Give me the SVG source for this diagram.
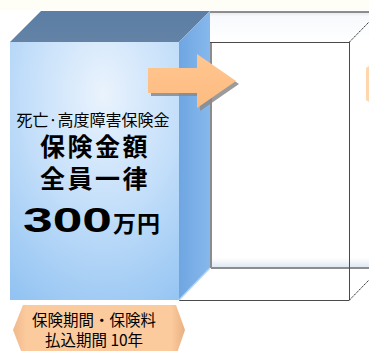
<svg xmlns="http://www.w3.org/2000/svg" width="369" height="351" viewBox="0 0 369 351">
<defs>
<style>
.t{font-family:"Noto Sans CJK JP","Liberation Sans",sans-serif;fill:#000;text-anchor:middle}
.back{stroke:#8c8c8c;stroke-width:2;fill:none}
.front{stroke:#4a4a4a;stroke-width:1;fill:none}
.diag{stroke:#222;stroke-width:1;stroke-dasharray:1.5 0.8;fill:none}
</style>
<radialGradient id="gFront" cx="0.55" cy="0.2" r="0.95">
<stop offset="0" stop-color="#EAF3FD"/>
<stop offset="0.45" stop-color="#C6E0FA"/>
<stop offset="1" stop-color="#92C3F2"/>
</radialGradient>
<linearGradient id="gSide" x1="0" y1="0" x2="1" y2="0">
<stop offset="0" stop-color="#6FA6E2"/>
<stop offset="1" stop-color="#86B8EC"/>
</linearGradient>
<linearGradient id="gTop" x1="0" y1="0" x2="0" y2="1">
<stop offset="0" stop-color="#5C7EA4"/>
<stop offset="1" stop-color="#6382A6"/>
</linearGradient>
<linearGradient id="gArrow" x1="0" y1="0" x2="0" y2="1">
<stop offset="0" stop-color="#FFC690"/>
<stop offset="1" stop-color="#FDBB80"/>
</linearGradient>
<linearGradient id="gLabel" x1="0" y1="0" x2="1" y2="0">
<stop offset="0" stop-color="#F0B98A"/>
<stop offset="0.08" stop-color="#FBCB9E"/>
<stop offset="0.92" stop-color="#FBCB9E"/>
<stop offset="1" stop-color="#E9B080"/>
</linearGradient>
<linearGradient id="gWTop" x1="0" y1="0" x2="0" y2="1">
<stop offset="0" stop-color="#E6E6E6"/>
<stop offset="0.15" stop-color="#F7F9FC"/>
<stop offset="1" stop-color="#FFFFFF"/>
</linearGradient>
<linearGradient id="gWBot" x1="0" y1="1" x2="0" y2="0">
<stop offset="0" stop-color="#DCE6F0"/>
<stop offset="1" stop-color="#FFFFFF"/>
</linearGradient>
</defs>
<rect width="369" height="351" fill="#FFFFFF"/>
<rect width="369" height="10" fill="#FFFEF6"/>

<g id="white-box">
<rect x="210" y="12" width="159" height="30" fill="url(#gWTop)"/>
<rect x="210" y="258" width="159" height="10" fill="url(#gWBot)"/>
<line class="back" x1="210" y1="12" x2="369" y2="12"/>
<line class="back" x1="211" y1="42" x2="211" y2="268"/>
<line class="back" x1="211" y1="268" x2="369" y2="268"/>
<line class="front" x1="210" y1="42.5" x2="349.5" y2="42.5"/>
<line class="front" x1="349.5" y1="42" x2="349.5" y2="300"/>
<line class="front" x1="179" y1="300.5" x2="349.5" y2="300.5"/>
<line class="diag" x1="349.5" y1="42" x2="369" y2="22"/>
<line class="diag" x1="349.5" y1="300" x2="369" y2="280"/>
<path d="M366,68 L369,66 L369,102 L366,100 Z" fill="#FFD7AE"/>
</g>

<g id="blue-box">
<polygon points="10,42 41,11 210,11 179,42" fill="url(#gTop)"/>
<polygon points="179,42 210,11 210,268 179,300" fill="url(#gSide)"/>
<line x1="179" y1="300" x2="210" y2="268" stroke="#B8D6F5" stroke-width="1.5"/>
<rect x="10" y="42" width="169" height="258" fill="url(#gFront)"/>
<text class="t" x="93" y="126" font-size="16">死亡·高度障害保険金</text>
<text class="t" x="95" y="156" font-size="25" font-weight="bold" letter-spacing="2.5">保険金額</text>
<text class="t" x="95" y="188" font-size="25" font-weight="bold" letter-spacing="2.5">全員一律</text>
<text x="23" y="232" font-family="Liberation Sans, sans-serif" font-weight="bold" font-size="35" textLength="89" lengthAdjust="spacingAndGlyphs">300</text>
<text x="113" y="232" font-family="Noto Sans CJK JP, sans-serif" font-weight="bold" font-size="23" letter-spacing="1">万円</text>
</g>

<g id="connectors">
<polygon points="151,71 200,71 200,57 239,84 200,111 200,96 151,96" fill="#8A8A8A" opacity="0.85"/>
<polygon points="148,68 197,68 197,54 236,81 197,108 197,93 148,93" fill="url(#gArrow)"/>
</g>

<g id="label">
<polygon points="23,305 176,305 185,330 176,356 23,356 13,330" fill="url(#gLabel)"/>
<text class="t" x="94" y="326" font-size="15.5">保険期間・保険料</text>
<text class="t" x="94" y="346" font-size="15.5">払込期間 10年</text>
</g>
</svg>
